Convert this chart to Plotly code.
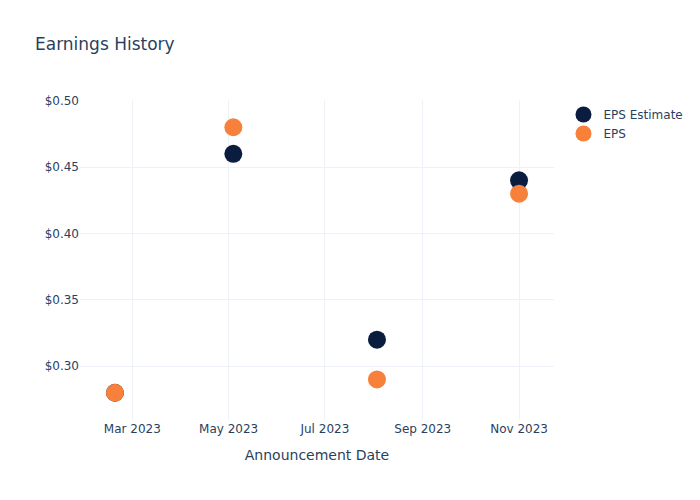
import plotly.graph_objects as go

dates = ["2023-02-18", "2023-05-04", "2023-08-03", "2023-11-01"]
eps_estimate = [0.28, 0.46, 0.32, 0.44]
eps_actual = [0.28, 0.48, 0.29, 0.43]

fig = go.Figure()
fig.add_trace(go.Scatter(x=dates, y=eps_estimate, mode="markers", name="EPS Estimate",
                         marker=dict(color="#0b1d3f", size=18)))
fig.add_trace(go.Scatter(x=dates, y=eps_actual, mode="markers", name="EPS",
                         marker=dict(color="#f7803a", size=18)))
fig.update_layout(
    template="plotly_white",
    width=700, height=500,
    font=dict(family="DejaVu Sans"),
    title=dict(text="Earnings History"),
    xaxis=dict(title=dict(text="Announcement Date"), gridcolor="#eef2f8"),
    yaxis=dict(tickformat="$.2f", gridcolor="#eef2f8"),
)
fig.write_html("out.html")
